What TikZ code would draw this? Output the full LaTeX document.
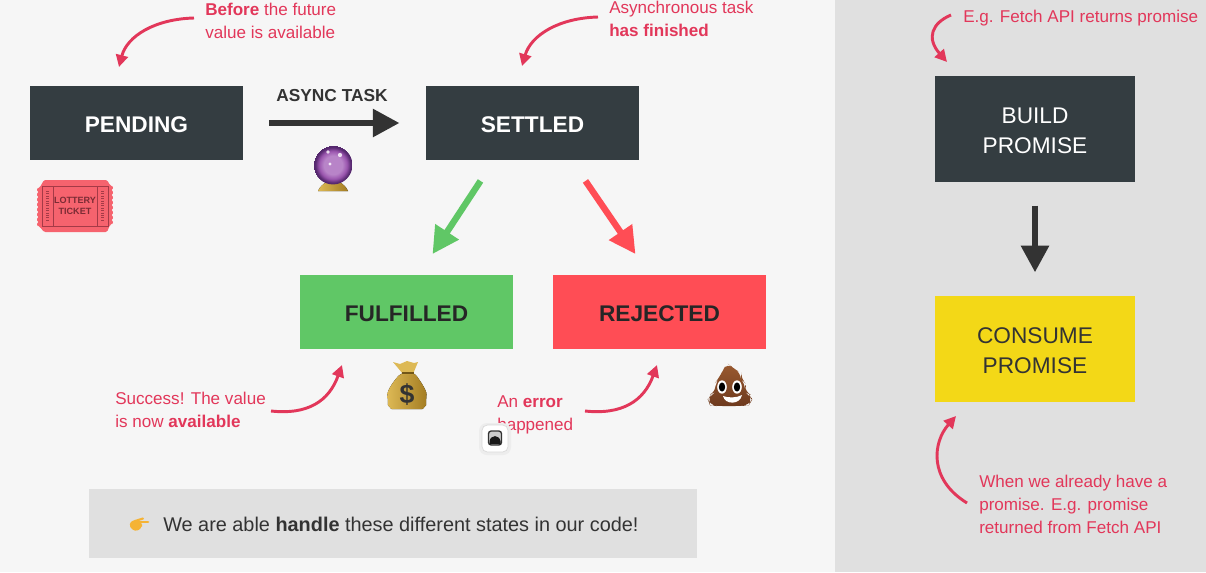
\documentclass[tikz,border=0pt]{standalone}
\usepackage{fontspec}
\setmainfont{Liberation Sans}
\usetikzlibrary{arrows.meta,calc}
\definecolor{bgmain}{HTML}{F6F6F6}
\definecolor{panel}{HTML}{E0E0E0}
\definecolor{darkbox}{HTML}{343D41}
\definecolor{arrowdark}{HTML}{333333}
\definecolor{redtxt}{HTML}{E2375A}
\definecolor{greenbox}{HTML}{60C766}
\definecolor{redbox}{HTML}{FF4D55}
\definecolor{yellowbox}{HTML}{F3D817}
\definecolor{tick}{HTML}{F6636E}
\definecolor{tickd}{HTML}{A53A47}
\definecolor{poopd}{HTML}{6E3A1E}
\definecolor{poopl}{HTML}{9A5A30}
\definecolor{goldl}{HTML}{DDB955}
\definecolor{goldd}{HTML}{A37C22}
\definecolor{handc}{HTML}{F5B335}
\definecolor{orbA}{HTML}{B884C8}
\definecolor{orbB}{HTML}{9A55AE}
\definecolor{orbC}{HTML}{55286E}
\pgfdeclareradialshading{orb}{\pgfpoint{0bp}{0bp}}{%
  color(0bp)=(orbA); color(12bp)=(orbA); color(18bp)=(orbB); color(23bp)=(orbC); color(25bp)=(orbC)}
\tikzset{
  x=0.75pt,y=-0.75pt,
  statebox/.style={rectangle,minimum width=160pt,minimum height=55pt,inner sep=0pt,text height=14pt,text depth=0pt,font=\fontsize{17}{20}\selectfont\bfseries},
  tallbox/.style={rectangle,minimum width=150pt,minimum height=80pt,inner sep=0pt,align=center,text height=36.7pt,text depth=0pt,font=\fontsize{17}{22.5}\selectfont},
  note/.style={anchor=base west,inner sep=0pt,text=redtxt,font=\fontsize{12.8}{17.2}\selectfont,align=left},
  curvearrow/.style={draw=redtxt,line width=2.2pt,-{Triangle[length=9pt,width=9pt]}},
  bigarrow/.style={line width=4.8pt,-{Triangle[length=20pt,width=20pt]}},
}
\begin{document}
\begin{tikzpicture}
\useasboundingbox (0,0) rectangle (1206,572);
\fill[bgmain] (0,0) rectangle (1206,572);
\fill[panel] (835,0) rectangle (1206,572);

% state boxes
\node[statebox,fill=darkbox,text=white] (pending) at (136.5,123) {PENDING};
\node[statebox,fill=darkbox,text=white] (settled) at (532.5,123) {SETTLED};
\node[statebox,fill=greenbox,text=black!85] (fulfilled) at (406.5,312) {FULFILLED};
\node[statebox,fill=redbox,text=black!85] (rejected) at (659.5,312) {REJECTED};
\node[tallbox,fill=darkbox,text=white] (build) at (1035,129) {BUILD\\PROMISE};
\node[tallbox,fill=yellowbox,text=black!80] (consume) at (1035,349) {CONSUME\\PROMISE};

% connectors between states
\draw[bigarrow,arrowdark] ($(pending.east)+(26,0)$) -- ($(settled.west)+(-26,0)$);
\node[inner sep=0pt,text=arrowdark,font=\fontsize{13}{16}\selectfont\bfseries] (asynclabel) at (332,95.5) {ASYNC TASK};
\draw[bigarrow,greenbox] ($(settled.south)+(-52,21)$) -- ($(fulfilled.north)+(26,-21)$);
\draw[bigarrow,redbox] ($(settled.south)+(53,21)$) -- ($(rejected.north)+(-24,-21)$);
\draw[bigarrow,arrowdark] ($(build.south)+(0,23)$) -- ($(consume.north)+(0,-23)$);

% notes (position = baseline of the last line)
\node[note] (n1) at (205,38) {\textbf{Before} the future\\value is available};
\node[note] (n2) at (609,36) {Asynchronous task\\\textbf{has finished}};
\node[note] (n3) at (115,427) {Success! The value\\is now \textbf{available}};
\node[note] (n4) at (497,430) {An \textbf{error}\\happened};
\node[note] (n5) at (963,22) {E.g. Fetch API returns promise};
\node[note] (n6) at (979,533) {When we already have a\\promise. E.g. promise\\returned from Fetch API};

% curved arrows
\coordinate (a1s) at (194,18); \coordinate (a1e) at (119,67);
\draw[curvearrow] (a1s) .. controls (155,19) and (127,36) .. (a1e);
\coordinate (a2s) at (598,17); \coordinate (a2e) at (522,66);
\draw[curvearrow] (a2s) .. controls (559,18) and (531,35) .. (a2e);
\coordinate (a3s) at (271,411); \coordinate (a3e) at (342,365);
\draw[curvearrow] (a3s) .. controls (308,415) and (329,401) .. (a3e);
\coordinate (a4s) at (585,411); \coordinate (a4e) at (657,365);
\draw[curvearrow] (a4s) .. controls (622,415) and (644,401) .. (a4e);
\coordinate (a5s) at (951,15); \coordinate (a5e) at (947,62);
\draw[curvearrow] (a5s) .. controls (932,23) and (926,38) .. (a5e);
\coordinate (a6s) at (967,503); \coordinate (a6e) at (956,416);
\draw[curvearrow] (a6s) .. controls (928,479) and (933,442) .. (a6e);

% banner
\fill[panel] (89,489) rectangle (697,558);
\node[anchor=base west,inner sep=0pt,text=arrowdark,font=\fontsize{14.9}{18}\selectfont] (banner) at (163,531) {We are able \textbf{handle} these different states in our code!};
% pointing hand
\fill[handc,rounded corners=2pt] (129,524) -- (133,520) -- (140,520) -- (142,524) -- (142,527) -- (138,531) -- (132,530) -- cycle;
\draw[handc,line width=2pt,line cap=round] (137,522) -- (148,522);
\draw[handc,line width=1.6pt,line cap=round] (135,521) -- (143,518.5);

% ticket
\fill[tick,rounded corners=1pt] (44,180) -- (107,180) -- (110,185)
  -- ++(4,2.5) -- ++(-3,2.5) -- ++(3,2.5) -- ++(-3,2.5) -- ++(3,2.5) -- ++(-3,2.5) -- ++(3,2.5) -- ++(-3,2.5) -- ++(3,2.5) -- ++(-3,2.5) -- ++(3,2.5) -- ++(-3,2.5) -- ++(3,2.5) -- ++(-3,2.5) -- ++(3,2.5) -- ++(-4,2.5)
  -- (107,232) -- (44,232) -- (40,227)
  -- ++(-4,-2.5) -- ++(3,-2.5) -- ++(-3,-2.5) -- ++(3,-2.5) -- ++(-3,-2.5) -- ++(3,-2.5) -- ++(-3,-2.5) -- ++(3,-2.5) -- ++(-3,-2.5) -- ++(3,-2.5) -- ++(-3,-2.5) -- ++(3,-2.5) -- ++(-3,-2.5) -- ++(3,-2.5) -- ++(-3,-2.5) -- ++(4,-2.5)
  -- cycle;
\draw[tickd,line width=.5pt] (42,186) rectangle (108,226);
\draw[tickd,line width=.5pt] (53,186) -- (53,226) (97,186) -- (97,226);
\node[inner sep=0pt,align=center,text=tickd!75!black,font=\fontsize{6.8}{8.4}\selectfont\bfseries] (ticket) at (75,206) {LOTTERY\\TICKET};
\draw[tickd,line width=2pt,dash pattern=on .8pt off 1pt] (47.5,191) -- (47.5,221) (102.5,191) -- (102.5,221);

% crystal ball
\fill[left color=goldl,right color=goldd] (318,191) .. controls (320,186) and (324,184) .. (326,182) -- (340,182) .. controls (342,184) and (346,186) .. (348,191) -- cycle;
\shade[shading=orb] (333,165) circle (14.6pt);
\fill[white,opacity=.8] (328,152) circle (1.4pt) (330,164) circle (1.3pt) (340,155) circle (1.6pt);

% money bag
\fill[left color=goldl,right color=goldd,rounded corners=4pt] (403,372) .. controls (396,378) and (387,390) .. (388,400) .. controls (388,405) and (391,409) .. (397,409) -- (417,409) .. controls (423,409) and (426,405) .. (426,400) .. controls (427,390) and (418,378) .. (414,372) -- cycle;
\fill[goldl] (393,362) -- (400,364) -- (407,361) -- (414,363) -- (418,362) -- (413,374) -- (403,374) -- cycle;
\draw[goldd!70!black,line width=1pt] (402,373) -- (414,373);
\node[inner sep=0pt,text=black!80,font=\fontsize{20}{22}\selectfont\bfseries] (dollar) at (407,395) {\$};

% poop
\shade[top color=poopl,bottom color=poopd,rounded corners=5pt] (727,363) -- (733,368) -- (741,373) -- (741,379) -- (745,383) -- (745,392) -- (749,394) -- (752,400) -- (749,405) -- (742,406) -- (716,406) -- (710,405) -- (708,400) -- (711,394) -- (716,392) -- (715,383) -- (719,378) -- (722,372) -- cycle;
\fill[white] (722,387) ellipse (3.6pt and 5pt) (737,387) ellipse (3.6pt and 5pt);
\fill[black] (722,387) ellipse (2.4pt and 3.4pt) (737,387) ellipse (2.4pt and 3.4pt);
\fill[white] (723,396) .. controls (728,398) and (737,398) .. (742,395) .. controls (740,405) and (725,405) .. (723,396) -- cycle;

% snapshot button
\fill[black!7,rounded corners=6pt] (479,423) rectangle (511,455);
\fill[white,draw=black!15,line width=.5pt,rounded corners=4pt] (482,425) rectangle (508,452);
\fill[black!20,draw=black!80,line width=1pt,rounded corners=2pt] (488.5,431) rectangle (501.5,445);
\fill[black!90] (489.5,444) -- (489.5,441) .. controls (491,434.5) and (499,434.5) .. (500.5,441) -- (500.5,444) -- cycle;
\end{tikzpicture}
\end{document}
